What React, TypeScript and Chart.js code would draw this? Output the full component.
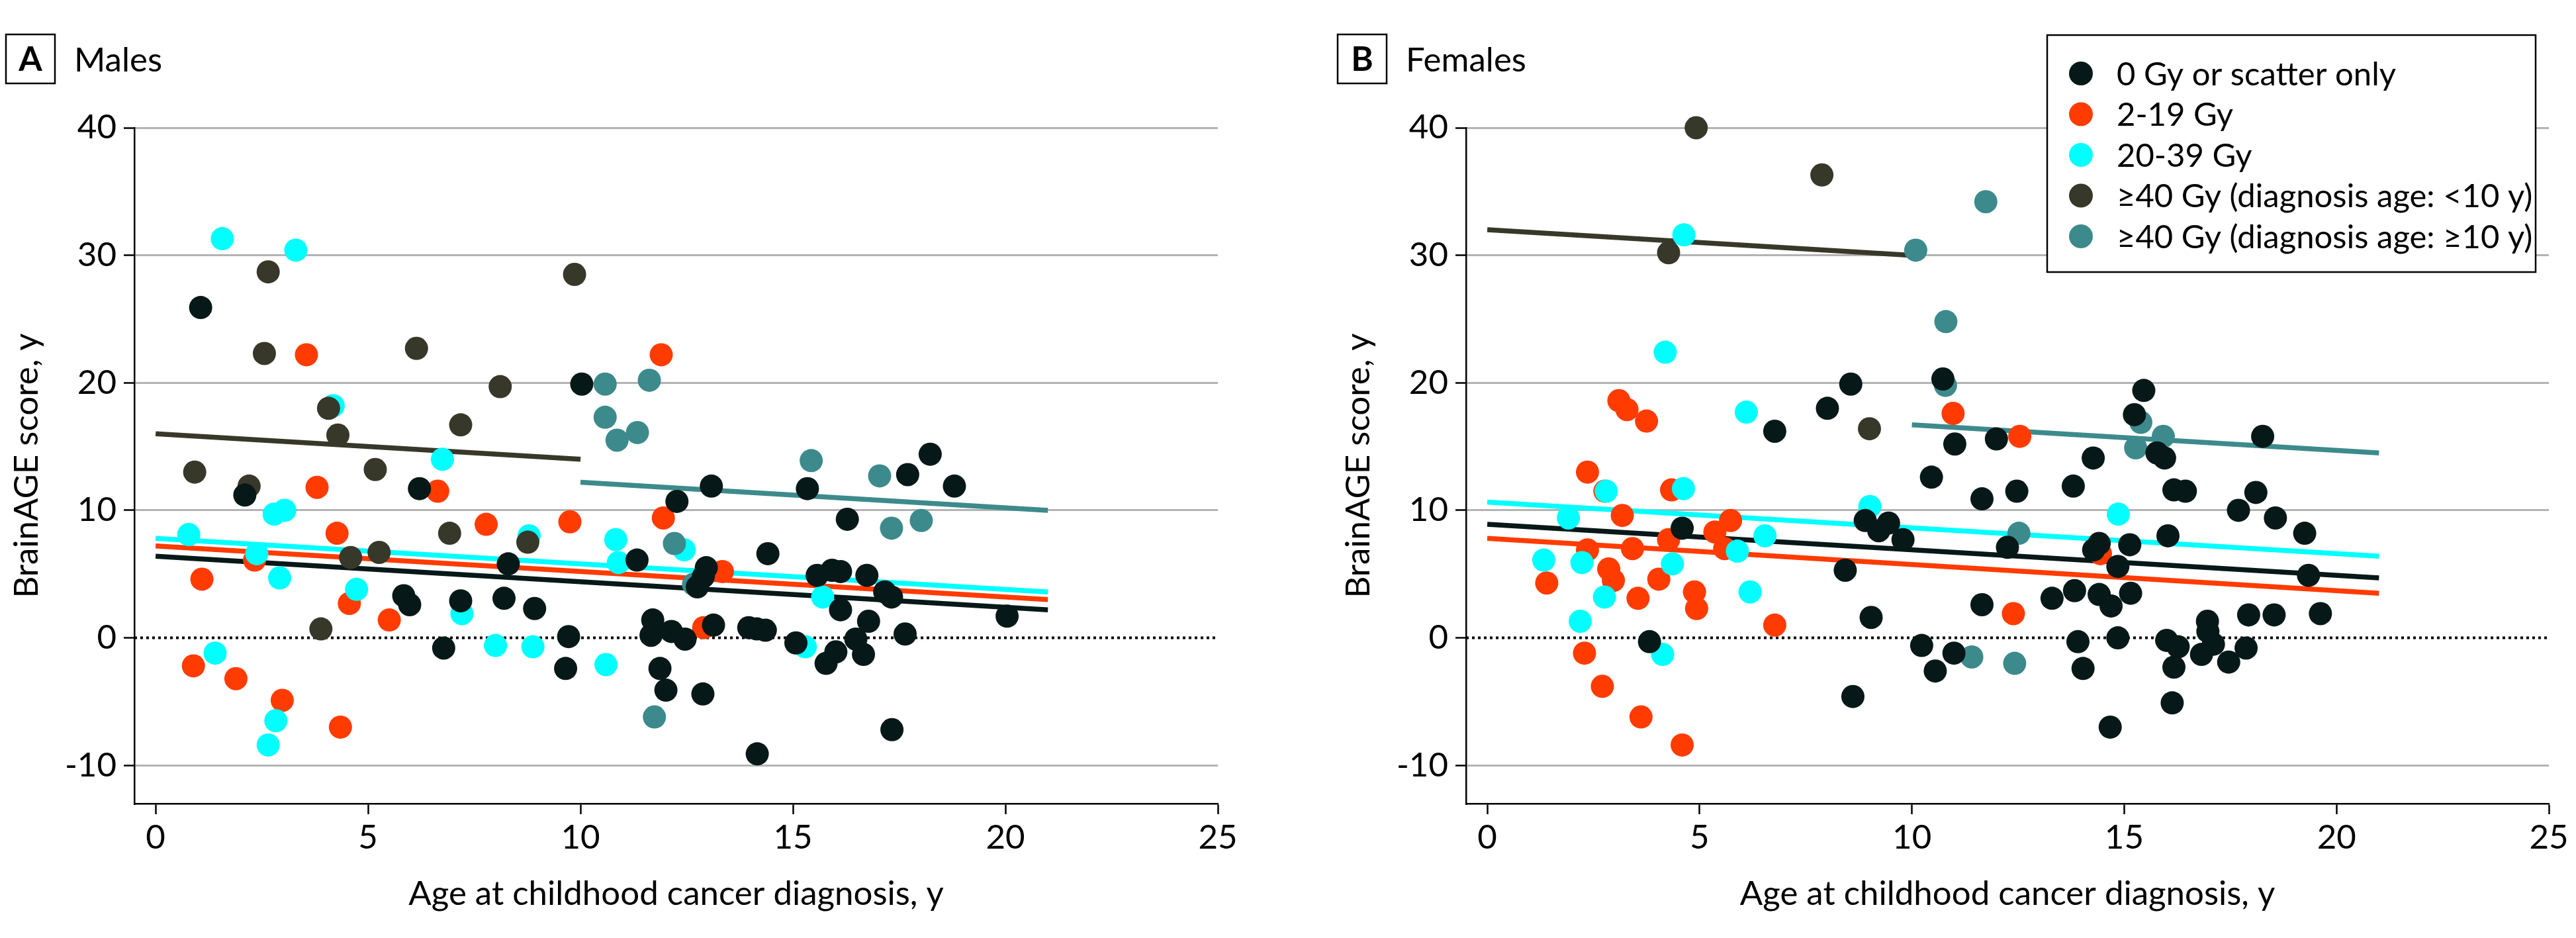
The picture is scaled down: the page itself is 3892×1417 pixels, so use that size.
import React, { useEffect, useRef } from 'react';
import { Chart, registerables } from 'chart.js';

Chart.register(...registerables);

type Pt = [number, number];

const FONT = 'Lato';

const groupLabels = [
  '0 Gy or scatter only',
  '2-19 Gy',
  '20-39 Gy',
  '≥40 Gy (diagnosis age: <10 y)',
  '≥40 Gy (diagnosis age: ≥10 y)',
];
const groupColors = ['#071818', '#ff3b00', '#00ffff', '#38382a', '#3d8a8c'];

const xTicks = [0, 5, 10, 15, 20, 25];
const yTicks = [-10, 0, 10, 20, 30, 40];

// ---- Males ----
const malesNone: Pt[] = [
  [1.06, 25.9], [2.1, 11.2], [10.03, 19.9], [6.21, 11.7], [8.3, 5.8], [5.84, 3.3], [5.98, 2.6],
  [7.18, 2.9], [8.2, 3.1], [8.92, 2.3], [6.78, -0.8], [9.72, 0.1], [9.65, -2.4], [11.33, 6.1],
  [13.08, 11.9], [12.27, 10.7], [15.34, 11.7], [16.28, 9.3], [17.7, 12.8], [18.23, 14.4], [18.8, 11.9],
  [14.41, 6.6], [12.96, 5.5], [12.89, 4.8], [12.75, 4.0], [15.57, 4.9], [15.92, 5.3], [16.12, 5.2],
  [16.74, 4.9], [17.16, 3.6], [17.32, 3.2], [16.12, 2.2], [16.78, 1.3], [20.04, 1.7], [11.7, 1.4],
  [11.66, 0.2], [12.14, 0.5], [12.46, -0.1], [13.13, 1.0], [13.96, 0.8], [14.15, 0.7], [14.35, 0.6],
  [15.07, -0.4], [16.48, -0.1], [16.01, -1.1], [15.78, -2.0], [16.66, -1.3], [17.64, 0.3], [11.87, -2.4],
  [12.01, -4.1], [12.88, -4.4], [14.16, -9.1], [17.33, -7.2],
];
const malesLow: Pt[] = [
  [3.55, 22.2], [3.8, 11.8], [4.27, 8.2], [6.64, 11.5], [7.78, 8.9], [9.75, 9.1], [2.33, 6.1],
  [1.09, 4.6], [4.56, 2.7], [5.5, 1.4], [0.89, -2.2], [1.89, -3.2], [2.98, -4.9], [4.35, -7.0],
  [11.9, 22.2], [11.95, 9.4], [13.34, 5.2], [12.9, 0.8],
];
const malesMid: Pt[] = [
  [1.57, 31.3], [3.3, 30.4], [0.78, 8.1], [2.79, 9.7], [3.04, 10.0], [2.38, 6.6], [2.92, 4.7],
  [4.18, 18.2], [6.75, 14.0], [4.73, 3.8], [7.21, 1.9], [8.0, -0.6], [8.79, 8.0], [8.88, -0.7],
  [1.4, -1.2], [2.83, -6.5], [2.65, -8.4], [10.83, 7.7], [10.89, 5.9], [10.6, -2.1], [12.44, 6.9],
  [15.7, 3.2], [15.29, -0.7],
];
const malesHighYoung: Pt[] = [
  [2.65, 28.7], [2.56, 22.3], [6.14, 22.7], [9.86, 28.5], [8.11, 19.7], [4.07, 18.0], [4.29, 15.9],
  [7.18, 16.7], [0.92, 13.0], [2.2, 11.9], [5.17, 13.2], [6.92, 8.2], [8.76, 7.5], [4.59, 6.3],
  [5.26, 6.7], [3.89, 0.7],
];
const malesHighOld: Pt[] = [
  [10.58, 19.9], [11.62, 20.2], [10.58, 17.3], [10.86, 15.5], [11.34, 16.1], [15.43, 13.9],
  [17.04, 12.7], [17.32, 8.6], [18.02, 9.2], [12.21, 7.4], [12.66, 4.2], [11.74, -6.2],
];
// fitted trend lines (start, end)
const malesFitNone: Pt[] = [[0, 6.4], [21, 2.2]];
const malesFitLow: Pt[] = [[0, 7.2], [21, 3.0]];
const malesFitMid: Pt[] = [[0, 7.8], [21, 3.6]];
const malesFitHighYoung: Pt[] = [[0, 16.0], [10, 14.0]];
const malesFitHighOld: Pt[] = [[10, 12.2], [21, 10.0]];

// ---- Females ----
const femalesNone: Pt[] = [
  [3.82, -0.3], [4.59, 8.6], [6.77, 16.2], [8.56, 19.9], [8.01, 18.0], [8.43, 5.3], [9.04, 1.6],
  [8.61, -4.6], [8.9, 9.2], [9.45, 9.0], [9.22, 8.4], [9.79, 7.7], [10.73, 20.3], [11.01, 15.2],
  [10.46, 12.6], [10.23, -0.6], [10.55, -2.6], [10.99, -1.2], [11.65, 10.9], [11.65, 2.6],
  [15.46, 19.4], [15.24, 17.5], [11.99, 15.6], [14.27, 14.1], [13.8, 11.9], [12.47, 11.5],
  [15.77, 14.5], [15.95, 14.1], [16.17, 11.6], [16.44, 11.5], [18.26, 15.8], [18.1, 11.4],
  [17.69, 10.0], [18.56, 9.4], [19.25, 8.2], [16.03, 8.0], [15.13, 7.3], [14.41, 7.4], [14.28, 6.9],
  [12.25, 7.1], [14.85, 5.6], [19.34, 4.9], [13.3, 3.1], [13.83, 3.7], [14.41, 3.4], [14.69, 2.5],
  [15.15, 3.5], [17.93, 1.8], [18.53, 1.8], [19.62, 1.9], [16.96, 1.3], [16.97, 0.5], [17.1, -0.5],
  [13.91, -0.3], [14.85, 0.0], [16.0, -0.2], [16.27, -0.7], [16.82, -1.3], [17.87, -0.8],
  [17.46, -1.9], [14.03, -2.4], [16.17, -2.3], [16.13, -5.1], [14.67, -7.0],
];
const femalesLow: Pt[] = [
  [3.1, 18.6], [3.29, 17.9], [3.75, 17.0], [2.36, 13.0], [4.34, 11.6], [2.77, 11.5], [3.18, 9.6],
  [2.36, 6.9], [3.42, 7.0], [4.27, 7.7], [5.36, 8.3], [5.73, 9.2], [5.59, 7.0], [2.86, 5.4],
  [2.97, 4.5], [4.04, 4.6], [1.4, 4.3], [3.55, 3.1], [4.88, 3.6], [4.93, 2.3], [6.77, 1.0],
  [2.29, -1.2], [2.71, -3.8], [3.62, -6.2], [4.59, -8.4], [10.97, 17.6], [12.54, 15.8],
  [12.39, 1.9], [14.44, 6.6],
];
const femalesMid: Pt[] = [
  [4.63, 31.6], [4.19, 22.4], [6.1, 17.7], [4.62, 11.7], [2.8, 11.5], [1.91, 9.4], [9.01, 10.3],
  [6.54, 8.0], [5.89, 6.8], [4.36, 5.8], [1.33, 6.1], [2.23, 5.9], [2.76, 3.2], [6.19, 3.6],
  [2.19, 1.3], [4.13, -1.3], [14.86, 9.7],
];
const femalesHighYoung: Pt[] = [[4.92, 40.0], [7.88, 36.3], [4.27, 30.2], [9.0, 16.4]];
const femalesHighOld: Pt[] = [
  [10.09, 30.4], [10.8, 24.8], [10.79, 19.8], [11.41, -1.5], [11.74, 34.2], [15.39, 16.9],
  [15.92, 15.8], [15.27, 14.9], [12.52, 8.2], [12.42, -2.0],
];
const femalesFitNone: Pt[] = [[0, 8.9], [21, 4.7]];
const femalesFitLow: Pt[] = [[0, 7.8], [21, 3.5]];
const femalesFitMid: Pt[] = [[0, 10.65], [21, 6.4]];
const femalesFitHighYoung: Pt[] = [[0, 32.0], [10, 30.0]];
const femalesFitHighOld: Pt[] = [[10, 16.7], [21, 14.5]];

const zeroLine: Pt[] = [[-0.5, 0], [25, 0]];

const toXY = (pts: Pt[]) => pts.map(([x, y]) => ({ x, y }));

function buildDatasets(groups: Pt[][], fits: Pt[][]) {
  const ds: any[] = [];
  // first dataset is painted last (on top)
  const pointOrder = [0, 4, 3, 2, 1];
  pointOrder.forEach((g) => {
    ds.push({
      label: groupLabels[g],
      data: toXY(groups[g]),
      backgroundColor: groupColors[g],
      borderWidth: 0,
      pointRadius: 17.5,
      pointHoverRadius: 17.5,
      showLine: false,
      clip: false,
    });
  });
  [4, 3, 2, 1, 0].forEach((g) => {
    ds.push({
      label: groupLabels[g] + ' fit',
      data: toXY(fits[g]),
      borderColor: groupColors[g],
      borderWidth: 7.5,
      pointRadius: 0,
      showLine: true,
      fill: false,
    });
  });
  ds.push({
    label: 'zero',
    data: toXY(zeroLine),
    borderColor: '#000',
    borderWidth: 4,
    borderDash: [4, 5],
    pointRadius: 0,
    showLine: true,
    fill: false,
    clip: false,
  });
  return ds;
}

const panelDecor = {
  id: 'panelDecor',
  afterDraw(chart: any, _args: any, opts: any) {
    const { ctx } = chart;
    const off = opts.offset || 0;
    ctx.save();
    ctx.strokeStyle = '#000';
    ctx.lineWidth = 2.5;
    ctx.strokeRect(off + 9, 52, 74, 74);
    ctx.fillStyle = '#000';
    ctx.font = `bold 51px ${FONT}`;
    ctx.textAlign = 'center';
    ctx.textBaseline = 'middle';
    ctx.fillText(opts.letter, off + 46, 91);
    ctx.font = `51px ${FONT}`;
    ctx.textAlign = 'left';
    ctx.textBaseline = 'alphabetic';
    ctx.fillText(opts.title, off + 112, 108);

    if (opts.legend) {
      const bx = 1147;
      const by = 53;
      const bw = 738;
      const bh = 358;
      ctx.fillStyle = '#fff';
      ctx.fillRect(bx, by, bw, bh);
      ctx.strokeStyle = '#000';
      ctx.lineWidth = 2.5;
      ctx.strokeRect(bx, by, bw, bh);
      ctx.font = `49px ${FONT}`;
      ctx.textBaseline = 'middle';
      ctx.textAlign = 'left';
      groupLabels.forEach((lab, i) => {
        const cy = 111 + i * 61.5;
        ctx.fillStyle = groupColors[i];
        ctx.beginPath();
        ctx.arc(bx + 51, cy, 18, 0, Math.PI * 2);
        ctx.fill();
        ctx.fillStyle = '#000';
        ctx.fillText(lab, bx + 105, cy + 2);
      });
    }
    ctx.restore();
  },
};

function makeConfig(
  groups: Pt[][],
  fits: Pt[][],
  letter: string,
  title: string,
  padLeft: number,
  padRight: number,
  legend: boolean
): any {
  const tickFont = { family: FONT, size: 51 };
  return {
    type: 'scatter',
    data: { datasets: buildDatasets(groups, fits) },
    plugins: [panelDecor],
    options: {
      responsive: false,
      animation: false,
      devicePixelRatio: 1,
      events: [],
      layout: { padding: { left: padLeft, right: padRight, top: 193, bottom: 0 } },
      plugins: {
        legend: { display: false },
        tooltip: { enabled: false },
        panelDecor: { letter, title, offset: padLeft, legend },
      },
      scales: {
        x: {
          type: 'linear',
          min: -0.5,
          max: 25,
          afterBuildTicks: (s: any) => {
            s.ticks = xTicks.map((v) => ({ value: v }));
          },
          afterFit: (s: any) => {
            s.height = 203;
          },
          grid: {
            drawOnChartArea: false,
            drawTicks: true,
            tickLength: 16,
            tickColor: '#000',
            tickWidth: 2.5,
          },
          border: { display: true, color: '#000', width: 2.5 },
          ticks: { font: tickFont, color: '#000', padding: 5, maxRotation: 0, autoSkip: false },
          title: {
            display: true,
            text: 'Age at childhood cancer diagnosis, y',
            font: tickFont,
            color: '#000',
            padding: { top: 0, bottom: 36 },
          },
        },
        y: {
          type: 'linear',
          min: -13,
          max: 40,
          afterBuildTicks: (s: any) => {
            s.ticks = yTicks.map((v) => ({ value: v }));
          },
          afterFit: (s: any) => {
            s.width = 203;
          },
          grid: {
            color: (c: any) => (c.tick && c.tick.value === 0 ? 'rgba(0,0,0,0)' : '#b3b3b3'),
            lineWidth: 3,
            drawTicks: true,
            tickLength: 16,
            tickColor: '#000',
            tickWidth: 2.5,
          },
          border: { display: true, color: '#000', width: 2.5 },
          ticks: { font: tickFont, color: '#000', padding: 11 },
          title: {
            display: true,
            text: 'BrainAGE score, y',
            font: tickFont,
            color: '#000',
            padding: { top: 10, bottom: 0 },
          },
        },
      },
    },
  };
}

export default function App() {
  const refA = useRef<HTMLCanvasElement>(null);
  const refB = useRef<HTMLCanvasElement>(null);

  useEffect(() => {
    const males = [malesNone, malesLow, malesMid, malesHighYoung, malesHighOld];
    const malesFits = [malesFitNone, malesFitLow, malesFitMid, malesFitHighYoung, malesFitHighOld];
    const females = [femalesNone, femalesLow, femalesMid, femalesHighYoung, femalesHighOld];
    const femalesFits = [femalesFitNone, femalesFitLow, femalesFitMid, femalesFitHighYoung, femalesFitHighOld];
    const a = new Chart(refA.current as HTMLCanvasElement, makeConfig(males, malesFits, 'A', 'Males', 0, 106, false));
    const b = new Chart(refB.current as HTMLCanvasElement, makeConfig(females, femalesFits, 'B', 'Females', 66, 41, true));
    return () => {
      a.destroy();
      b.destroy();
    };
  }, []);

  return (
    <div style={{ position: 'absolute', left: 0, top: 0, width: 3892, height: 1417, background: '#fff' }}>
      <canvas ref={refA} width={1946} height={1417} style={{ position: 'absolute', left: 0, top: 0 }} />
      <canvas ref={refB} width={1946} height={1417} style={{ position: 'absolute', left: 1946, top: 0 }} />
    </div>
  );
}
